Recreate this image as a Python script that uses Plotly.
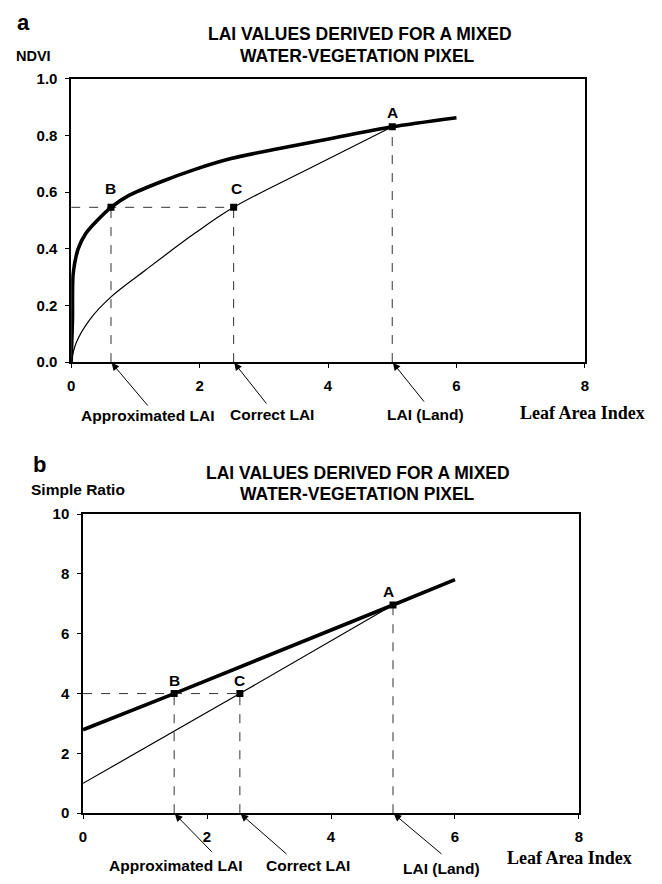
import plotly.graph_objects as go

W, H = 662, 884

# ---------------- data ----------------
# Panel a : NDVI vs LAI
lai_mixed_a = [0, 0.02, 0.03, 0.11, 0.235, 0.39, 0.62, 0.90, 1.42, 1.93, 2.49, 3.2, 4.03, 5.0, 6.0]
ndvi_mixed = [0, 0.15, 0.31, 0.40, 0.456, 0.496, 0.546, 0.588, 0.638, 0.68, 0.718, 0.752, 0.788, 0.83, 0.862]
lai_land_a = [0, 0.08, 0.29, 0.62, 1.16, 1.93, 2.53, 3.77, 5.0]
ndvi_land = [0, 0.069, 0.15, 0.23, 0.325, 0.455, 0.546, 0.69, 0.83]
point_names = ["A", "B", "C"]
lai_pts_a = [5.0, 0.62, 2.53]
ndvi_pts = [0.83, 0.546, 0.546]

# Panel b : Simple Ratio vs LAI
lai_mixed_b = [0, 1.47, 5.0, 6.0]
sr_mixed = [2.79, 4.0, 6.96, 7.81]
lai_land_b = [0, 2.53, 5.0]
sr_land = [1.0, 4.0, 6.96]
lai_pts_b = [5.0, 1.47, 2.53]
sr_pts = [6.96, 4.0, 4.0]

x_ticks = [0, 2, 4, 6, 8]
ndvi_ticks = [0.0, 0.2, 0.4, 0.6, 0.8, 1.0]
sr_ticks = [0, 2, 4, 6, 8, 10]

title_l1 = "LAI VALUES DERIVED FOR A MIXED"
title_l2 = "WATER-VEGETATION PIXEL"
arrow_labels = ["LAI (Land)", "Approximated LAI", "Correct LAI"]

# ---------------- figure ----------------
SANS = "Liberation Sans, Arial, sans-serif"
SERIF = "Liberation Serif, Times New Roman, serif"


def P(xp, yp):
    return xp / W, 1 - yp / H


fig = go.Figure()

thick = dict(color="black", width=3.6)
thin = dict(color="black", width=1.2)
dash = dict(color="#333333", width=1, dash="dash")

# panel a curves
fig.add_trace(go.Scatter(x=lai_mixed_a, y=ndvi_mixed, mode="lines", line=dict(**thick, shape="spline", smoothing=0.7),
                         xaxis="x", yaxis="y"))
fig.add_trace(go.Scatter(x=lai_land_a, y=ndvi_land, mode="lines", line=dict(**thin, shape="spline", smoothing=1.0),
                         xaxis="x", yaxis="y"))
# dashed guides panel a
for xv, yv in zip(lai_pts_a, ndvi_pts):
    fig.add_trace(go.Scatter(x=[xv, xv], y=[0, yv], mode="lines", line=dash, xaxis="x", yaxis="y"))
fig.add_trace(go.Scatter(x=[0, lai_pts_a[2]], y=[ndvi_pts[1], ndvi_pts[2]], mode="lines", line=dash,
                         xaxis="x", yaxis="y"))
fig.add_trace(go.Scatter(x=lai_pts_a, y=ndvi_pts, mode="markers",
                         marker=dict(symbol="square", size=7, color="black"), xaxis="x", yaxis="y"))

# panel b lines
fig.add_trace(go.Scatter(x=lai_mixed_b, y=sr_mixed, mode="lines", line=thick, xaxis="x2", yaxis="y2"))
fig.add_trace(go.Scatter(x=lai_land_b, y=sr_land, mode="lines", line=thin, xaxis="x2", yaxis="y2"))
for xv, yv in zip(lai_pts_b, sr_pts):
    fig.add_trace(go.Scatter(x=[xv, xv], y=[0, yv], mode="lines", line=dash, xaxis="x2", yaxis="y2"))
fig.add_trace(go.Scatter(x=[0, lai_pts_b[2]], y=[sr_pts[1], sr_pts[2]], mode="lines", line=dash,
                         xaxis="x2", yaxis="y2"))
fig.add_trace(go.Scatter(x=lai_pts_b, y=sr_pts, mode="markers",
                         marker=dict(symbol="square", size=7, color="black"), xaxis="x2", yaxis="y2"))

tickfont = dict(family=SANS, size=15, color="black", weight="bold")
axis_common = dict(showline=True, linecolor="black", linewidth=1.5, mirror=True, showgrid=False,
                   zeroline=False, ticks="outside", ticklen=4, tickcolor="black", tickfont=tickfont)

fig.update_layout(
    width=W, height=H, margin=dict(l=0, r=0, t=0, b=0),
    paper_bgcolor="white", plot_bgcolor="white", showlegend=False,
    xaxis=dict(domain=[68 / W, 588 / W], range=[0, 8], tickvals=x_ticks, anchor="y",
               ticklabelstandoff=5, **axis_common),
    yaxis=dict(domain=[1 - 360 / H, 1 - 71 / H], range=[0, 1], tickvals=ndvi_ticks, tickformat=".1f",
               anchor="x", ticklabelstandoff=5, **axis_common),
    xaxis2=dict(domain=[80 / W, 582 / W], range=[0, 8], tickvals=x_ticks, anchor="y2",
                ticklabelstandoff=5, **axis_common),
    yaxis2=dict(domain=[1 - 820 / H, 1 - 515 / H], range=[0, 10], tickvals=sr_ticks, anchor="x2",
                ticklabelstandoff=5, **axis_common),
)

ann = []


def text(xp, yp, s, size=15.5, family=SANS, xanchor="center"):
    x, y = P(xp, yp)
    ann.append(dict(x=x, y=y, xref="paper", yref="paper", text=s, showarrow=False, xanchor=xanchor,
                    yanchor="middle", font=dict(family=family, size=size, color="black", weight="bold")))


# panel letters, axis titles, chart titles
text(20, 14, "a", size=22)
text(30, 48, "NDVI", size=14.5)
text(360, 25, title_l1, size=17.5)
text(358, 48, title_l2, size=17.5)
text(586, 412, "Leaf Area Index", size=18, family=SERIF)

text(36, 464, "b", size=22)
text(75, 490, "Simple Ratio", size=15.5)
text(358, 473, title_l1, size=17.5)
text(358, 495, title_l2, size=17.5)
text(572, 866, "Leaf Area Index", size=18, family=SERIF)

# arrow labels
text(427, 413, arrow_labels[0])
text(145, 414, arrow_labels[1])
text(271, 413, arrow_labels[2])
text(443, 876, arrow_labels[0])
text(174, 873, arrow_labels[1])
text(308, 873, arrow_labels[2])

# arrows (head at x-axis position of each point)
arrow_offsets_a = [(33, 41), (38, 45), (34, 43)]
arrow_offsets_b = [(50, 42), (39, 40), (48, 42)]
for xv, (dx, dy) in zip(lai_pts_a, arrow_offsets_a):
    ann.append(dict(x=xv, y=0, xref="x", yref="y", ax=dx, ay=dy, axref="pixel", ayref="pixel", text="",
                    showarrow=True, arrowhead=2, arrowsize=1.5, arrowwidth=1, arrowcolor="black", standoff=1))
for xv, (dx, dy) in zip(lai_pts_b, arrow_offsets_b):
    ann.append(dict(x=xv, y=0, xref="x2", yref="y2", ax=dx, ay=dy, axref="pixel", ayref="pixel", text="",
                    showarrow=True, arrowhead=2, arrowsize=1.5, arrowwidth=1, arrowcolor="black", standoff=1))

# point labels
shifts_a = [14, 19, 19]
xs_a = [0, 0, 3]
for name, xv, yv, s, xs in zip(point_names, lai_pts_a, ndvi_pts, shifts_a, xs_a):
    ann.append(dict(x=xv, y=yv, xref="x", yref="y", text=name, showarrow=False, yshift=s, xshift=xs,
                    font=dict(family=SANS, size=15.5, color="black", weight="bold")))
shifts_b = [14, 13, 13]
xs_b = [-4, 0, 0]
for name, xv, yv, s, xs in zip(point_names, lai_pts_b, sr_pts, shifts_b, xs_b):
    ann.append(dict(x=xv, y=yv, xref="x2", yref="y2", text=name, showarrow=False, yshift=s, xshift=xs,
                    font=dict(family=SANS, size=15.5, color="black", weight="bold")))

fig.update_layout(annotations=ann)
fig.write_html("out.html")
